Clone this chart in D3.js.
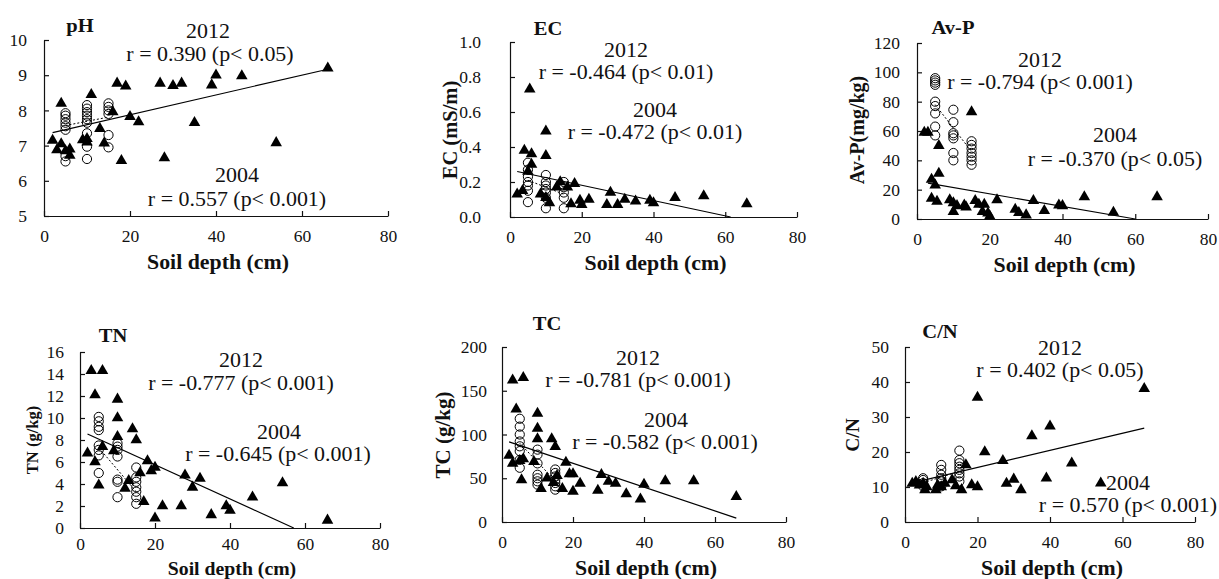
<!DOCTYPE html>
<html><head><meta charset="utf-8">
<script src="https://cdn.jsdelivr.net/npm/d3@7"></script>
<style>
html,body{margin:0;padding:0;background:#fff;}
svg{display:block;font-family:"Liberation Serif","Times New Roman",serif;}
</style></head><body>
<svg id="c" width="1219" height="579"></svg>
<script>
// ---------- data ----------
const depthTicks = [0, 20, 40, 60, 80];
const phTicks = [5, 6, 7, 8, 9, 10];
const ecTicks = [0, 0.2, 0.4, 0.6, 0.8, 1.0];
const avpTicks = [0, 20, 40, 60, 80, 100, 120];
const tnTicks = [0, 2, 4, 6, 8, 10, 12, 14, 16];
const tcTicks = [0, 50, 100, 150, 200];
const cnTicks = [0, 10, 20, 30, 40, 50];

const panelNames = ["pH", "EC", "Av-P", "TN", "TC", "C/N"];
const yLabels = [null, "EC (mS/m)", "Av-P(mg/kg)", "TN (g/kg)", "TC (g/kg)", "C/N"];
const xLabel = "Soil depth (cm)";
const yearLabels = ["2012", "2004"];
const rTexts2012 = ["r = 0.390 (p< 0.05)", "r = -0.464 (p< 0.01)", "r = -0.794 (p< 0.001)", "r = -0.777 (p< 0.001)", "r = -0.781 (p< 0.001)", "r = 0.402 (p< 0.05)"];
const rTexts2004 = ["r = 0.557 (p< 0.001)", "r = -0.472 (p< 0.01)", "r = -0.370 (p< 0.05)", "r = -0.645 (p< 0.001)", "r = -0.582 (p< 0.001)", "r = 0.570 (p< 0.001)"];

// 2004 (filled triangles) and 2012 (open circles): [depth cm, value]
const ph2004 = [[2,7.15],[3,6.88],[4,8.2],[4,7.05],[5,6.85],[6,6.9],[6,6.72],[9,7.16],[10,7.1],[10,7.2],[11,8.45],[13,7.48],[14,7.07],[16,7.96],[17,8.77],[18,6.57],[19,8.69],[20,7.82],[22,7.67],[27,8.77],[28,6.65],[30,8.7],[32,8.77],[35,7.65],[39,8.72],[40,9.0],[46,8.98],[54,7.08],[66,9.2]];
const ph2012 = [[5,7.92],[5,7.85],[5,7.75],[5,7.65],[5,7.55],[5,7.45],[5,6.7],[5,6.55],[10,8.15],[10,8.05],[10,7.95],[10,7.85],[10,7.75],[10,7.65],[10,7.35],[10,6.97],[10,6.62],[15,8.2],[15,8.1],[15,8.0],[15,7.9],[15,7.3],[15,6.95]];
const phFit2004 = [[2,7.37],[66,9.17]];
const phFit2012 = [[5,7.57],[15,7.81]];

const ec2004 = [[2,0.13],[3.5,0.15],[4,0.38],[5,0.26],[5.5,0.73],[6,0.36],[6,0.30],[8.5,0.13],[10,0.49],[10,0.35],[10,0.11],[11,0.08],[13,0.17],[14,0.2],[16,0.17],[17,0.075],[18,0.19],[19.5,0.095],[20,0.07],[22,0.1],[27,0.07],[28,0.14],[30,0.07],[32,0.1],[35,0.09],[39,0.095],[40,0.08],[46,0.11],[54,0.12],[66,0.075]];
const ec2012 = [[5,0.31],[5,0.27],[5,0.23],[5,0.2],[5,0.18],[5,0.15],[5,0.085],[10,0.24],[10,0.2],[10,0.18],[10,0.16],[10,0.14],[10,0.11],[10,0.05],[15,0.2],[15,0.17],[15,0.14],[15,0.11],[15,0.05]];
const ecFit2004 = [[2,0.26],[61.5,0]];
const ecFit2012 = [[5,0.21],[15,0.13]];

const avp2004 = [[2,59],[3,59],[6,50],[15,73],[4,27],[6,31],[5,23],[4,14],[5.5,12],[9,13],[10,11],[10,5],[11,9],[13,9.5],[13.5,8],[16,12.5],[17,10],[18,5],[18.5,10],[19.5,4],[20,2],[22,13],[27,6.6],[28,4.3],[30,2.7],[32,12.5],[35,5.7],[39,9.5],[40,9],[46,15],[54,4.5],[66,15]];
const avp2012 = [[5,96],[5,94.5],[5,93],[5,91.5],[5,80],[5,77],[5,72],[5,63],[5,57],[10,74.5],[10,66],[10,58.5],[10,57],[10,55],[10,45],[10,40],[15,53],[15,50.5],[15,48],[15,45],[15,42.5],[15,40],[15,37]];
const avpFit2004 = [[3,24.4],[60,0]];
const avpFit2012 = [[5,78],[15,46]];

const tn2004 = [[2,6.8],[3,14.3],[4,12.1],[4,6.0],[5,3.9],[6,14.3],[6,7.4],[9,7.0],[10,11.7],[10,10.0],[10,8.3],[12,3.6],[13,4.3],[14,9.0],[15,8.0],[16,5.0],[17,2.4],[18,6.1],[19,5.2],[20,5.5],[20,0.9],[22,2.0],[27,2.0],[28,4.8],[30,3.7],[32,4.5],[35,1.2],[39,2.0],[40,1.6],[46,2.8],[54,4.1],[66,0.7]];
const tn2012 = [[5,10.1],[5,9.7],[5,9.2],[5,8.9],[5,7.5],[5,7.1],[5,6.6],[5,5.0],[10,7.7],[10,7.4],[10,7.1],[10,6.5],[10,4.4],[10,4.2],[10,2.8],[15,5.5],[15,4.6],[15,4.2],[15,3.7],[15,3.3],[15,2.8],[15,2.2]];
const tnFit2004 = [[2,8.55],[57,0]];
const tnFit2012 = [[5,7.3],[15,3.3]];

const tc2004 = [[2,76],[3,162],[3,67],[4,129],[5,70],[5.5,48],[6,165],[6,72],[9,69],[10,124],[10,107],[10,95],[11,38],[12.7,50],[14,95],[14.5,45],[15,86],[15.5,53],[17,38],[18,68],[19,55],[20,35],[20,55],[22,44],[27,36],[28,54],[30,46.5],[32,44],[35,32],[39,26],[40,43],[46,47],[54,47],[66,29]];
const tc2012 = [[5,118],[5,109],[5,100],[5,92],[5,86.5],[5,81],[5,71],[5,62],[10,82.7],[10,77],[10,67],[10,54],[10,50],[10,46.5],[10,42.7],[15,60],[15,56],[15,52],[15,48],[15,44.6],[15,40.8],[15,37]];
const tcFit2004 = [[2,91.5],[66,4.5]];
const tcFit2012 = [[5,90],[15,47]];

const cn2004 = [[2,11],[3,11.5],[4,10.5],[5,11],[5.5,9.2],[6,10],[8.5,9.2],[9,10.5],[10,10],[11,11],[13,12],[14,10.3],[15.6,9.2],[16.8,16.3],[18.4,10.6],[20,10],[20,35.6],[22,20],[27,17.5],[28,11],[30,12.2],[32,9.2],[35,24.6],[39,12.5],[40,27.4],[46,16.8],[54,11.1],[66,38.1]];
const cn2012 = [[5,12.5],[5,12],[5,11.1],[5,10.2],[10,16.3],[10,14.9],[10,13.5],[10,12.5],[10,11.6],[10,10.2],[15,20.4],[15,17.7],[15,16.8],[15,15.8],[15,14.9],[15,13.9],[15,13],[15,11.6]];
const cnFit2004 = [[2,11.2],[66,26.8]];
const cnFit2012 = [[5,11.2],[15,14.5]];

const series2004 = [ph2004, ec2004, avp2004, tn2004, tc2004, cn2004];
const series2012 = [ph2012, ec2012, avp2012, tn2012, tc2012, cn2012];
const fits2004 = [phFit2004, ecFit2004, avpFit2004, tnFit2004, tcFit2004, cnFit2004];
const fits2012 = [phFit2012, ecFit2012, avpFit2012, tnFit2012, tcFit2012, cnFit2012];
const yTickSets = [phTicks, ecTicks, avpTicks, tnTicks, tcTicks, cnTicks];

// ---------- layout ----------
const layout = [
  {x0:44,  x1:388,  yT:40,  yB:216, gap:17, xpad:14, xlfs:21, xly:262, fmt:d3.format("d"),   title:[80,26],   ylab:null,      ylfs:20, ann:[[208,31],[210,54],[237,175],[237,199]]},
  {x0:510, x1:797,  yT:42,  yB:217, gap:29, xpad:14, xlfs:21, xly:263, fmt:d3.format(".1f"), title:[548,29],  ylab:[450,130],ylfs:20.5, ann:[[626,50],[626,72],[655,110],[655,132]]},
  {x0:917, x1:1208, yT:43,  yB:219, gap:17, xpad:14, xlfs:21, xly:265, fmt:d3.format("d"),   title:[953,28],  ylab:[857,130],ylfs:20, ann:[[1040,60],[1040,82],[1115,135],[1115,159]]},
  {x0:80,  x1:380,  yT:352, yB:528, gap:16, xpad:10, xlfs:19, xly:569, fmt:d3.format("d"),   title:[113,336], ylab:[32,440], ylfs:16.5, ann:[[241,360],[241,383],[279,432],[278,454]]},
  {x0:502, x1:786,  yT:347, yB:522, gap:15, xpad:14, xlfs:21, xly:568, fmt:d3.format("d"),   title:[547,324], ylab:[443,435],ylfs:21, ann:[[638,358],[638,380],[666,420],[665,442]]},
  {x0:905, x1:1195, yT:347, yB:522, gap:16, xpad:14, xlfs:21, xly:568, fmt:d3.format("d"),   title:[940,332], ylab:[852,435],ylfs:19.5, ann:[[1060,348],[1060,370],[1128,483],[1128,505]]}
];

const svg = d3.select("#c");
const ink = "#111";
const tickFs = 17.5, annFs = 20.5, titleFs = 19;

function stretch(sel, f) {
  sel.each(function() {
    const w = this.getComputedTextLength();
    d3.select(this).attr("textLength", w * f).attr("lengthAdjust", "spacingAndGlyphs");
  });
}

layout.forEach((L, i) => {
  const yt = yTickSets[i];
  const x = d3.scaleLinear().domain([0, 80]).range([L.x0, L.x1]);
  const y = d3.scaleLinear().domain([yt[0], yt[yt.length - 1]]).range([L.yB, L.yT]);
  const g = svg.append("g");

  // axes
  const ax = g.append("g").attr("transform", `translate(0,${L.yB})`)
    .call(d3.axisBottom(x).tickValues(depthTicks).tickFormat(d3.format("d")).tickSizeInner(-5).tickSizeOuter(0).tickPadding(L.xpad));
  const ay = g.append("g").attr("transform", `translate(${L.x0},0)`)
    .call(d3.axisLeft(y).tickValues(yt).tickFormat(L.fmt).tickSizeInner(-5).tickSizeOuter(0).tickPadding(L.gap));
  [ax, ay].forEach(a => {
    a.select(".domain").attr("stroke", ink).attr("stroke-width", 1.2);
    a.selectAll(".tick line").attr("stroke", ink).attr("stroke-width", 1.2);
    a.selectAll("text").attr("fill", ink).style("font-size", tickFs + "px")
      .style("font-family", '"Liberation Serif","Times New Roman",serif');
  });
  ax.selectAll(".tick text").attr("dy", "0.71em");

  // 2004 triangles
  g.append("g").selectAll("path").data(series2004[i]).join("path")
    .attr("d", d3.symbol(d3.symbolTriangle, 58))
    .attr("transform", d => `translate(${x(d[0])},${y(d[1])})`)
    .attr("fill", "#000");

  // 2012 circles
  g.append("g").selectAll("circle").data(series2012[i]).join("circle")
    .attr("cx", d => x(d[0])).attr("cy", d => y(d[1])).attr("r", 4.6)
    .attr("fill", "none").attr("stroke", "#000").attr("stroke-width", 1);

  // regression lines
  const line = d3.line().x(d => x(d[0])).y(d => y(d[1]));
  g.append("path").datum(fits2004[i]).attr("d", line)
    .attr("stroke", "#000").attr("stroke-width", 1.2).attr("fill", "none");
  g.append("path").datum(fits2012[i]).attr("d", line)
    .attr("stroke", "#000").attr("stroke-width", 1).attr("stroke-dasharray", "2,2").attr("fill", "none");

  // title
  g.append("text").attr("x", L.title[0]).attr("y", L.title[1] + 0.34 * titleFs)
    .attr("text-anchor", "middle").attr("font-weight", "bold").attr("font-size", titleFs).attr("fill", ink)
    .text(panelNames[i]).call(stretch, 1.08);

  // y label
  if (L.ylab) {
    g.append("text").attr("transform", `translate(${L.ylab[0]},${L.ylab[1]}) rotate(-90)`)
      .attr("y", 0.34 * L.ylfs).attr("text-anchor", "middle").attr("font-weight", "bold")
      .attr("font-size", L.ylfs).attr("fill", ink).text(yLabels[i]);
  }

  // x label
  g.append("text").attr("x", (L.x0 + L.x1) / 2 + 2).attr("y", L.xly + 0.34 * L.xlfs)
    .attr("text-anchor", "middle").attr("font-weight", "bold").attr("font-size", L.xlfs).attr("fill", ink)
    .text(xLabel).call(stretch, 1.04);

  // annotations
  const texts = [yearLabels[0], rTexts2012[i], yearLabels[1], rTexts2004[i]];
  texts.forEach((t, k) => {
    g.append("text").attr("x", L.ann[k][0]).attr("y", L.ann[k][1] + 0.34 * annFs)
      .attr("text-anchor", "middle").attr("font-size", annFs).attr("fill", ink).text(t)
      .call(stretch, 1.07);
  });
});
</script>
</body></html>
